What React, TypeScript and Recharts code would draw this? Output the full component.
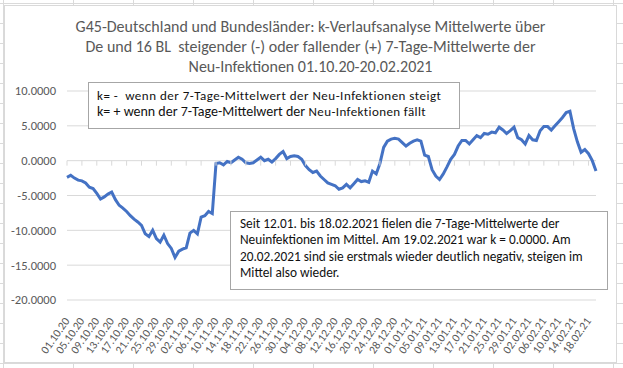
import { CartesianGrid, Line, LineChart, XAxis, YAxis } from "recharts";

// k values, one per day from 01.10.20 to 20.02.21
const kValues = [
  -2.4, -2.1, -2.5, -2.8, -2.9, -3.2, -3.8, -4.0, -4.7, -5.5,
  -5.2, -4.8, -4.5, -5.6, -6.4, -6.8, -7.3, -7.9, -8.4, -8.8,
  -9.3, -10.5, -10.9, -10.0, -11.2, -11.7, -10.7, -11.9, -12.6, -13.9,
  -13.0, -12.7, -12.5, -10.4, -10.0, -10.5, -8.1, -7.9, -7.3, -7.6,
  -0.4, -0.3, -0.6, -0.1, -0.3, 0.1, 0.5, 0.2, -0.3, -0.4,
  -0.3, 0.1, 0.5, 0.0, 0.2, -0.2, 0.3, 0.9, 1.3, 0.3,
  0.6, 0.7, 0.6, 0.2, -0.7, -1.3, -1.7, -1.5, -2.2, -2.7,
  -3.2, -3.4, -3.6, -4.1, -3.9, -3.4, -3.9, -3.3, -2.7, -3.0,
  -2.9, -3.1, -1.5, -1.9, -0.4, 1.9, 2.8, 3.1, 3.2, 3.1,
  2.6, 2.1, 2.5, 2.8, 3.0, 2.8, 0.8, 0.6, -1.3, -2.2,
  -2.7, -1.9, -0.9, 0.2, 0.9, 2.1, 2.9, 2.9, 2.4, 3.0,
  3.6, 3.3, 3.9, 3.8, 4.1, 4.0, 4.8, 4.4, 3.9, 4.3,
  4.8, 3.3, 3.0, 2.4, 3.6, 3.0, 2.9, 4.3, 4.9, 4.9,
  4.4, 5.0, 5.6, 6.2, 6.9, 7.1, 4.6, 2.7, 1.2, 1.6,
  1.0, 0.0, -1.5,
];

const yTicks = [-20, -15, -10, -5, 0, 5, 10];

const titleLines = [
  "G45-Deutschland und Bundesländer: k-Verlaufsanalyse Mittelwerte über",
  "De und 16 BL  steigender (-) oder fallender (+) 7-Tage-Mittelwerte der",
  "Neu-Infektionen 01.10.20-20.02.2021",
];

const noteLines = [
  "Seit 12.01. bis 18.02.2021 fielen die 7-Tage-Mittelwerte der",
  "Neuinfektionen im Mittel. Am 19.02.2021 war k = 0.0000. Am",
  "20.02.2021 sind sie erstmals wieder deutlich negativ, steigen im",
  "Mittel also wieder.",
];

function buildDates(count: number) {
  const out: string[] = [];
  const d = new Date(Date.UTC(2020, 9, 1));
  for (let i = 0; i < count; i++) {
    const dd = String(d.getUTCDate()).padStart(2, "0");
    const mm = String(d.getUTCMonth() + 1).padStart(2, "0");
    const yy = String(d.getUTCFullYear()).slice(2);
    out.push(`${dd}.${mm}.${yy}`);
    d.setUTCDate(d.getUTCDate() + 1);
  }
  return out;
}

const dates = buildDates(kValues.length);
const data = dates.map((date, i) => ({ date, k: kValues[i] }));

const CHART_W = 611;
const CHART_H = 356;
const MARGIN = { top: 85, right: 20, bottom: 6, left: 0 };
const X_AXIS_H = 56;
const PLOT_H = CHART_H - MARGIN.top - MARGIN.bottom - X_AXIS_H;
const ZERO_Y = MARGIN.top + (PLOT_H * 10) / 30;

const FONT = "Carlito, Calibri, Lato, sans-serif";
const GRID = "#d9d9d9";
const cellCols = [3, 73, 133, 193, 253, 313, 373, 433, 493, 553, 613];
const cellRows = Array.from({ length: 19 }, (_, i) => 3 + i * 20);

function DateTick(props: any) {
  const { x, y, payload } = props;
  const ty = y + 13;
  return (
    <g>
      <line x1={x} x2={x} y1={ZERO_Y} y2={ZERO_Y + 5} stroke={GRID} />
      <text
        x={x + 3}
        y={ty}
        transform={`rotate(-55 ${x + 3} ${ty})`}
        textAnchor="end"
        fontSize={11.5}
        fontFamily={FONT}
        fill="#595959"
      >
        {payload.value}
      </text>
    </g>
  );
}

export default function App() {
  return (
    <div
      style={{
        position: "absolute",
        left: 0,
        top: 0,
        width: 623,
        height: 368,
        overflow: "hidden",
        background: "#fff",
        fontFamily: FONT,
      }}
    >
      {cellCols.map((x) => (
        <div key={`c${x}`} style={{ position: "absolute", left: x, top: 0, width: 1, height: 368, background: "#dadada" }} />
      ))}
      {cellRows.map((y) => (
        <div key={`r${y}`} style={{ position: "absolute", left: 0, top: y, width: 623, height: 1, background: "#dadada" }} />
      ))}
      <div
        style={{
          position: "absolute",
          left: 5,
          top: 6,
          width: CHART_W,
          height: CHART_H,
          background: "#fff",
          outline: "1px solid #d9d9d9",
        }}
      >
        <LineChart width={CHART_W} height={CHART_H} data={data} margin={MARGIN}>
          <CartesianGrid vertical={false} stroke={GRID} />
          <XAxis
            dataKey="date"
            interval={3}
            height={X_AXIS_H}
            axisLine={false}
            tickLine={false}
            tick={DateTick}
          />
          <YAxis
            width={62}
            domain={[-20, 10]}
            ticks={yTicks}
            axisLine={false}
            tickLine={false}
            tickMargin={5}
            tickFormatter={(v: number) => v.toFixed(4)}
            tick={{ fontSize: 12.5, fill: "#595959", fontFamily: FONT }}
          />
          <Line
            dataKey="k"
            type="linear"
            stroke="#4472C4"
            strokeWidth={3}
            dot={false}
            isAnimationActive={false}
          />
        </LineChart>
        <div
          style={{
            position: "absolute",
            left: 0,
            top: 11,
            width: CHART_W,
            textAlign: "center",
            fontSize: 16,
            lineHeight: "20px",
            color: "#595959",
          }}
        >
          {titleLines.map((t) => (
            <div key={t} style={{ whiteSpace: "pre" }}>{t}</div>
          ))}
        </div>
        <div
          style={{
            position: "absolute",
            left: 83,
            top: 76,
            width: 372,
            height: 47,
            boxSizing: "border-box",
            border: "1px solid #a6a6a6",
            background: "#fff",
            padding: "5px 0 0 8px",
            fontSize: 13,
            lineHeight: "16px",
            color: "#111",
            whiteSpace: "pre",
          }}
        >
          <div style={{ letterSpacing: 0.5 }}>k= -  wenn der 7-Tage-Mittelwert der Neu-Infektionen steigt</div>
          <div>
            <span style={{ fontSize: 14 }}>k= + wenn der 7-Tage-Mittelwert der</span>
            <span style={{ letterSpacing: 0.4 }}> Neu-Infektionen fällt</span>
          </div>
        </div>
        <div
          style={{
            position: "absolute",
            left: 225,
            top: 205,
            width: 378,
            height: 79,
            boxSizing: "border-box",
            border: "1px solid #a6a6a6",
            background: "#fff",
            padding: "4px 0 0 9px",
            fontSize: 13.3,
            lineHeight: "16.3px",
            color: "#111",
            whiteSpace: "pre",
          }}
        >
          {noteLines.map((t) => (
            <div key={t}>{t}</div>
          ))}
        </div>
      </div>
    </div>
  );
}
